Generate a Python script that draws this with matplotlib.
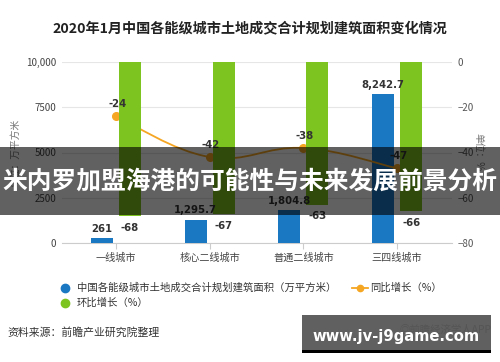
import matplotlib
matplotlib.use("Agg")
import matplotlib.pyplot as plt
from matplotlib.patches import Rectangle, PathPatch
from matplotlib.path import Path
from matplotlib.lines import Line2D
import numpy as np

plt.rcParams['font.family'] = ['Noto Sans CJK SC', 'DejaVu Sans']

categories = ['一线城市', '核心二线城市', '普通二线城市', '三四线城市']
area = [261, 1295.7, 1804.8, 8242.7]
yoy = [-24, -42, -38, -47]
mom = [-68, -67, -63, -66]
left_ticks = [0, 2500, 5000, 7500, 10000]
left_tick_labels = ['0', '2500', '5000', '7500', '10,000']
right_ticks = [0, -20, -40, -60, -80]

BLUE = '#1a78c3'
GREEN = '#7ec421'
ORANGE = '#f5a623'
TXT = '#333333'

W, H = 500, 362
fig = plt.figure(figsize=(W / 100, H / 100), dpi=100)
L, R, T, B = 62, 452, 62, 243
ax = fig.add_axes([L / W, 1 - B / H, (R - L) / W, (B - T) / H])
ax2 = ax.twinx()

x = np.arange(len(categories))
bw = 0.235
off = 0.15

ax.set_xlim(-0.576, 3.586)
ax.set_ylim(0, 10000)
ax2.set_ylim(-80, 0)

# grid
ax.set_yticks(left_ticks)
ax.set_yticklabels(left_tick_labels)
ax.yaxis.grid(True, color='#e6e6e6', linewidth=0.8)
ax.set_axisbelow(True)
for s in ['top', 'right', 'left']:
    ax.spines[s].set_visible(False)
ax.spines['bottom'].set_color('#cccccc')
for s in ['top', 'right', 'left', 'bottom']:
    ax2.spines[s].set_visible(False)
ax.tick_params(axis='y', length=0, pad=4, labelsize=7, labelcolor='#444444')
ax2.set_yticks(right_ticks)
ax2.tick_params(axis='y', length=0, pad=4, labelsize=7, labelcolor='#555555')
ax.set_xticks(x)
ax.set_xticklabels(categories)
ax.tick_params(axis='x', length=4, color='#cccccc', pad=3, labelsize=7.3, labelcolor='#444444')

ax.set_ylabel('单位：万平方米', fontsize=7, color='#777777')
ax.yaxis.set_label_coords(-(L - 20) / (R - L), 0.5)
ax2.set_ylabel('单位：%', fontsize=7, color='#777777', rotation=-90)
ax2.yaxis.set_label_coords((483 - L) / (R - L), 0.5)

# blue bars
ax.bar(x - off, area, width=bw, color=BLUE, zorder=3)

# smooth line (behind green bars)
pts = np.column_stack([x, yoy]).astype(float)
k = 0.2
verts = [tuple(pts[0])]
codes = [Path.MOVETO]
n = len(pts)
for i in range(n - 1):
    p_prev = pts[i - 1] if i > 0 else pts[i]
    p_next2 = pts[i + 2] if i + 2 < n else pts[i + 1]
    c1 = pts[i] + (pts[i + 1] - p_prev) * k
    c2 = pts[i + 1] - (p_next2 - pts[i]) * k
    verts += [tuple(c1), tuple(c2), tuple(pts[i + 1])]
    codes += [Path.CURVE4] * 3
ax2.add_patch(PathPatch(Path(verts, codes), facecolor='none', edgecolor=ORANGE,
                        linewidth=1.3, zorder=2))
ax2.plot(x, yoy, linestyle='none', marker='o', markersize=5.5, color=ORANGE, zorder=2)

# green bars
ax2.bar(x + off, mom, width=bw, color=GREEN, zorder=3)

# labels (on top of everything in the plot)
for xi, v in zip(x, area):
    lab = f'{int(v):,}' if v == int(v) else f'{v:,.1f}'
    ax2.annotate(lab, (xi - off, v), xycoords=ax.transData, xytext=(0, 3),
                 textcoords='offset points', ha='center', va='bottom', fontsize=7.3,
                 fontweight='bold', color=TXT, family='DejaVu Sans', zorder=6)
for xi, v in zip(x, mom):
    ax2.annotate(f'{v}', (xi + off, v), xytext=(0, -5), textcoords='offset points',
                 ha='center', va='top', fontsize=7.3, fontweight='bold',
                 color=TXT, family='DejaVu Sans', zorder=6)
for xi, v in zip(x, yoy):
    ax2.annotate(f'{v}', (xi, v), xytext=(1, 5), textcoords='offset points',
                 ha='center', va='bottom', fontsize=7.3, fontweight='bold',
                 color=TXT, family='DejaVu Sans', zorder=6)

# title
fig.text(0.5, 1 - 28 / H, '2020年1月中国各能级城市土地成交合计规划建筑面积变化情况',
         ha='center', va='center', fontsize=10.2, fontweight='bold', color='#222222')

# legend (manual)
def fx(px):
    return px / W

def fy(py):
    return 1 - py / H

LFS = 7.45
fig.add_artist(Line2D([fx(65)], [fy(288)], marker='o', markersize=6, color=BLUE,
                      linestyle='none', transform=fig.transFigure))
fig.text(fx(77), fy(288), '中国各能级城市土地成交合计规划建筑面积（万平方米）',
         ha='left', va='center', fontsize=LFS, color=TXT)
fig.add_artist(Line2D([fx(352), fx(368)], [fy(288), fy(288)], color=ORANGE,
                      linewidth=1.3, transform=fig.transFigure))
fig.add_artist(Line2D([fx(360)], [fy(288)], marker='o', markersize=4.5, color=ORANGE,
                      linestyle='none', transform=fig.transFigure))
fig.text(fx(370), fy(288), '同比增长（%）', ha='left', va='center', fontsize=LFS, color=TXT)
fig.add_artist(Line2D([fx(65)], [fy(303)], marker='o', markersize=6, color=GREEN,
                      linestyle='none', transform=fig.transFigure))
fig.text(fx(77), fy(303), '环比增长（%）', ha='left', va='center', fontsize=LFS, color=TXT)

# source
fig.text(fx(7), fy(332), '资料来源：前瞻产业研究院整理', ha='left', va='center',
         fontsize=7.8, color=TXT)

# overlay banner
fig.add_artist(Rectangle((0, fy(215)), 1, (215 - 147) / H, transform=fig.transFigure,
                         facecolor='black', alpha=0.62, edgecolor='none', zorder=10))
fig.text(0.5, fy(182), '米内罗加盟海港的可能性与未来发展前景分析', ha='center', va='center',
         fontsize=17.8, fontweight='bold', color='white', zorder=11)

# bottom watermark box
fig.add_artist(Rectangle((fx(302), fy(353)), (491 - 302) / W, 3 / H, transform=fig.transFigure,
                         facecolor='black', edgecolor='none', zorder=10))
fig.add_artist(Rectangle((fx(302), fy(350)), (491 - 302) / W, (350 - 315) / H,
                         transform=fig.transFigure, facecolor='#606060',
                         edgecolor='none', zorder=10))
fig.text(fx(400), fy(330), '◎前瞻经济学人APP', ha='left', va='center', fontsize=7.5,
         color='#555555', zorder=11, family=['Noto Sans CJK SC', 'DejaVu Sans'])
fig.text(fx(396), fy(337), 'www.jv-j9game.com', ha='center', va='center', fontsize=10.6,
         fontweight='bold', color='white', zorder=12, family='DejaVu Sans')

fig.savefig('out.png', dpi=100)
